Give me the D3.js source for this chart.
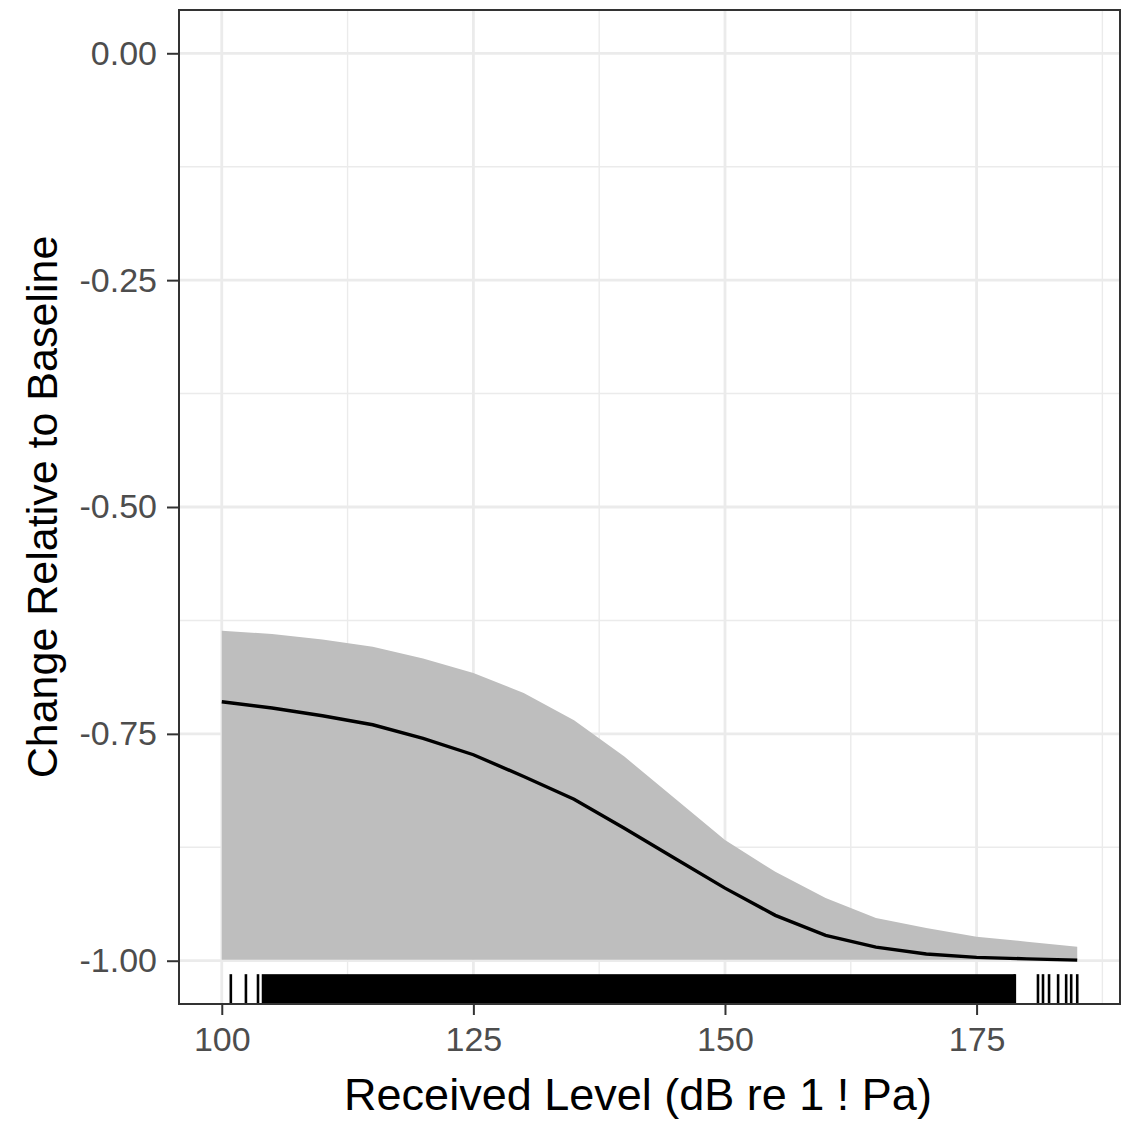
<!DOCTYPE html>
<html>
<head>
<meta charset="utf-8">
<script src="https://cdn.jsdelivr.net/npm/d3@7"></script>
<style>
body { margin: 0; background: #fff; }
text { font-family: "Liberation Sans", Arial, sans-serif; }
</style>
</head>
<body>
<div class="chart"></div>
<script>
var width = 1130, height = 1121;

// received level (dB) at which the fit was evaluated
var levels = [100, 105, 110, 115, 120, 125, 130, 135, 140, 145, 150, 155, 160, 165, 170, 175, 180, 185];
// fitted change relative to baseline
var fit = [-0.7146, -0.7215, -0.730, -0.740, -0.755, -0.773, -0.797, -0.822, -0.854, -0.887, -0.920, -0.950, -0.972, -0.985, -0.9926, -0.9963, -0.998, -0.9993];
// confidence band
var upper = [-0.6363, -0.6400, -0.6460, -0.654, -0.667, -0.683, -0.705, -0.735, -0.775, -0.821, -0.867, -0.902, -0.931, -0.953, -0.964, -0.9736, -0.979, -0.9846];
var lower = [-0.999, -0.999, -0.999, -0.999, -0.999, -0.999, -0.999, -0.999, -0.999, -0.999, -0.999, -0.999, -0.999, -0.999, -0.999, -0.999, -0.999, -0.999];
// observed received levels (rug): isolated ones, and the range that is covered solidly
var rugSingle = [100.9, 102.4, 103.6, 178.8, 181.1, 181.6, 182.2, 183.1, 183.9, 184.4, 185.0];
var rugDense = [[104.1, 178.7]];

var xTicks = [100, 125, 150, 175];
var xMinor = [112.5, 137.5, 162.5, 187.5];
var yTicks = [0, -0.25, -0.5, -0.75, -1];
var yMinor = [-0.125, -0.375, -0.625, -0.875];

var panel = {left: 179, top: 10, right: 1120, bottom: 1004};

var svg = d3.select('.chart')
	.append('svg')
	.attr('width', width)
	.attr('height', height);

var x = d3.scaleLinear()
	.domain([95.75, 189.25])
	.range([panel.left, panel.right]);

var y = d3.scaleLinear()
	.domain([-1.0477, 0.0477])
	.range([panel.bottom, panel.top]);

var grid = svg.append('g').attr('class', 'grid');

grid.selectAll('.minor-x')
	.data(xMinor)
	.enter().append('line')
	.attr('x1', function(d) { return x(d); })
	.attr('x2', function(d) { return x(d); })
	.attr('y1', panel.top)
	.attr('y2', panel.bottom)
	.attr('stroke', '#ebebeb')
	.attr('stroke-width', 1.4);

grid.selectAll('.minor-y')
	.data(yMinor)
	.enter().append('line')
	.attr('x1', panel.left)
	.attr('x2', panel.right)
	.attr('y1', function(d) { return y(d); })
	.attr('y2', function(d) { return y(d); })
	.attr('stroke', '#ebebeb')
	.attr('stroke-width', 1.4);

grid.selectAll('.major-x')
	.data(xTicks)
	.enter().append('line')
	.attr('x1', function(d) { return x(d); })
	.attr('x2', function(d) { return x(d); })
	.attr('y1', panel.top)
	.attr('y2', panel.bottom)
	.attr('stroke', '#ebebeb')
	.attr('stroke-width', 2.8);

grid.selectAll('.major-y')
	.data(yTicks)
	.enter().append('line')
	.attr('x1', panel.left)
	.attr('x2', panel.right)
	.attr('y1', function(d) { return y(d); })
	.attr('y2', function(d) { return y(d); })
	.attr('stroke', '#ebebeb')
	.attr('stroke-width', 2.8);

var rows = levels.map(function(d, i) {
	return {x: d, fit: fit[i], lo: lower[i], hi: upper[i]};
});

var area = d3.area()
	.x(function(d) { return x(d.x); })
	.y0(function(d) { return y(d.lo); })
	.y1(function(d) { return y(d.hi); });

svg.append('path')
	.datum(rows)
	.attr('d', area)
	.attr('fill', '#bebebe');

var line = d3.line()
	.x(function(d) { return x(d.x); })
	.y(function(d) { return y(d.fit); });

svg.append('path')
	.datum(rows)
	.attr('d', line)
	.attr('fill', 'none')
	.attr('stroke', 'black')
	.attr('stroke-width', 3.4);

// rug along the bottom, 3% of panel height
var rugLen = (panel.bottom - panel.top) * 0.03;

svg.append('g')
	.selectAll('line')
	.data(rugSingle)
	.enter().append('line')
	.attr('x1', function(d) { return x(d); })
	.attr('x2', function(d) { return x(d); })
	.attr('y1', panel.bottom)
	.attr('y2', panel.bottom - rugLen)
	.attr('stroke', 'black')
	.attr('stroke-width', 2.6);

svg.append('g')
	.selectAll('rect')
	.data(rugDense)
	.enter().append('rect')
	.attr('x', function(d) { return x(d[0]) - 1.3; })
	.attr('width', function(d) { return x(d[1]) - x(d[0]) + 2.6; })
	.attr('y', panel.bottom - rugLen)
	.attr('height', rugLen)
	.attr('fill', 'black');

// panel border
svg.append('rect')
	.attr('x', panel.left)
	.attr('y', panel.top)
	.attr('width', panel.right - panel.left)
	.attr('height', panel.bottom - panel.top)
	.attr('fill', 'none')
	.attr('stroke', '#333333')
	.attr('stroke-width', 2);

var xAxis = svg.append('g')
	.attr('transform', 'translate(0,' + panel.bottom + ')')
	.call(d3.axisBottom(x).tickValues(xTicks).tickSize(11).tickPadding(12).tickFormat(d3.format('d')));

var yAxis = svg.append('g')
	.attr('transform', 'translate(' + panel.left + ',0)')
	.call(d3.axisLeft(y).tickValues(yTicks).tickSize(12).tickPadding(10)
		.tickFormat(function(d) { return d3.format('.2f')(d).replace('\u2212', '-'); }));

[xAxis, yAxis].forEach(function(ax) {
	ax.select('.domain').remove();
	ax.selectAll('.tick line').attr('stroke', '#333333').attr('stroke-width', 2);
	ax.selectAll('.tick text')
		.attr('fill', '#4d4d4d')
		.style('font-size', '34px')
		.style('font-family', '"Liberation Sans", Arial, sans-serif');
});

svg.append('text')
	.attr('x', 638)
	.attr('y', 1110)
	.attr('text-anchor', 'middle')
	.style('font-size', '45px')
	.attr('fill', 'black')
	.text('Received Level (dB re 1 ! Pa)');

svg.append('text')
	.attr('transform', 'translate(57,' + ((panel.top + panel.bottom) / 2) + ') rotate(-90)')
	.attr('text-anchor', 'middle')
	.style('font-size', '43px')
	.attr('fill', 'black')
	.text('Change Relative to Baseline');
</script>
</body>
</html>
